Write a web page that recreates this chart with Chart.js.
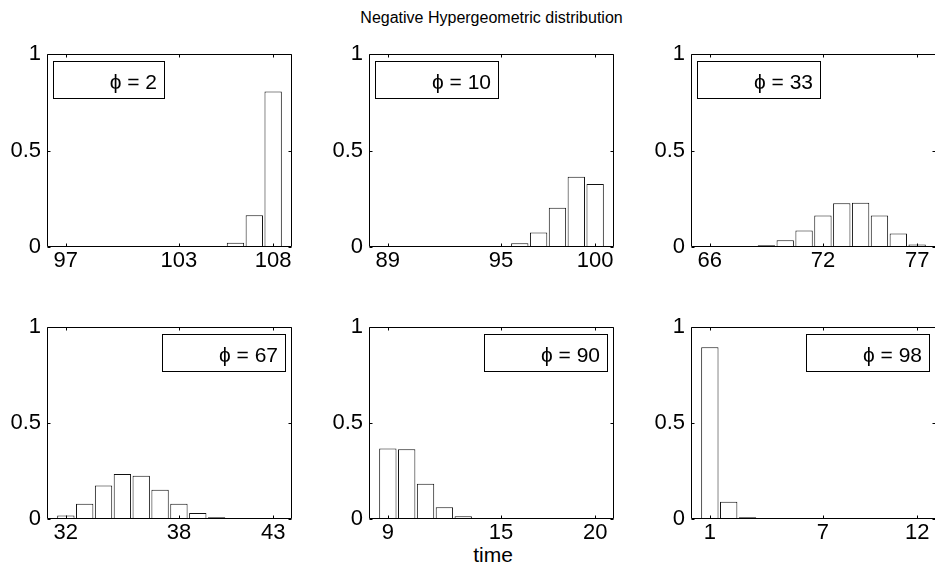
<!DOCTYPE html>
<html><head><meta charset="utf-8">
<script src="https://cdn.jsdelivr.net/npm/chart.js@4.4.1/dist/chart.umd.min.js"></script>
<style>
html,body{margin:0;padding:0;background:#fff;overflow:hidden;width:935px;height:572px;position:relative;}
canvas{position:absolute;}
.txt{position:absolute;font-family:'Liberation Sans',Arial,sans-serif;color:#000;white-space:nowrap;line-height:1;}
</style></head><body>
<div class="txt" style="font-size:16px;left:0;width:983px;text-align:center;top:10px;">Negative Hypergeometric distribution</div>
<div class="txt" style="font-size:21px;left:0;width:986px;text-align:center;top:544px;">time</div>
<script>
// ---- data ----
const phiValues = [2, 10, 33, 67, 90, 98];

const times1 = [97, 98, 99, 100, 101, 102, 103, 104, 105, 106, 107, 108];
const probs1 = [0, 0, 0, 0, 0, 0, 0, 0.0004, 0.004, 0.022, 0.165, 0.806];
const ticks1 = [97, 103, 108];

const times2 = [89, 90, 91, 92, 93, 94, 95, 96, 97, 98, 99, 100];
const probs2 = [0, 0, 0, 0, 0.0002, 0.0008, 0.004, 0.020, 0.075, 0.204, 0.364, 0.327];
const ticks2 = [89, 95, 100];

const times3 = [66, 67, 68, 69, 70, 71, 72, 73, 74, 75, 76, 77];
const probs3 = [0.0001, 0.0004, 0.002, 0.009, 0.035, 0.086, 0.163, 0.227, 0.229, 0.163, 0.070, 0.013];
const ticks3 = [66, 72, 77];

const times4 = [32, 33, 34, 35, 36, 37, 38, 39, 40, 41, 42, 43];
const probs4 = [0.018, 0.080, 0.175, 0.235, 0.225, 0.153, 0.080, 0.031, 0.009, 0.002, 0.0004, 0.0001];
const ticks4 = [32, 38, 43];

const times5 = [9, 10, 11, 12, 13, 14, 15, 16, 17, 18, 19, 20];
const probs5 = [0.367, 0.364, 0.184, 0.061, 0.014, 0.004, 0.0007, 0.0001, 0, 0, 0, 0];
const ticks5 = [9, 15, 20];

const times6 = [1, 2, 3, 4, 5, 6, 7, 8, 9, 10, 11, 12];
const probs6 = [0.896, 0.090, 0.009, 0.001, 0.0001, 0, 0, 0, 0, 0, 0, 0];
const ticks6 = [1, 7, 12];

const yTicks = [0, 0.5, 1];

// ---- layout ----
Chart.defaults.font.family = "'Liberation Sans', Arial, sans-serif";
Chart.defaults.color = '#000';

const W = 245;
const panels = [
  {phi: phiValues[0], times: times1, probs: probs1, ticks: ticks1, L: 47,  T: 50,  H: 197, legend: 'left'},
  {phi: phiValues[1], times: times2, probs: probs2, ticks: ticks2, L: 369, T: 50,  H: 197, legend: 'left'},
  {phi: phiValues[2], times: times3, probs: probs3, ticks: ticks3, L: 691, T: 50,  H: 197, legend: 'left'},
  {phi: phiValues[3], times: times4, probs: probs4, ticks: ticks4, L: 47,  T: 323, H: 196, legend: 'right'},
  {phi: phiValues[4], times: times5, probs: probs5, ticks: ticks5, L: 369, T: 323, H: 196, legend: 'right'},
  {phi: phiValues[5], times: times6, probs: probs6, ticks: ticks6, L: 691, T: 323, H: 196, legend: 'right'}
];

panels.forEach(p => {
  const padL = 47, padT = 15, padR = 22, padB = 40;
  const cv = document.createElement('canvas');
  cv.width = W + padL + padR;
  cv.height = p.H + padT + padB;
  cv.style.left = (p.L - padL) + 'px';
  cv.style.top = (p.T - padT) + 'px';
  document.body.appendChild(cv);

  const decor = {
    id: 'decor',
    afterDatasetsDraw(chart) {
      const ctx = chart.ctx, a = chart.chartArea;
      ctx.save();
      const l = Math.round(a.left) + 0.5, r = Math.round(a.right) - 0.5;
      const t = Math.round(a.top) + 0.5, b = Math.round(a.bottom) - 0.5;
      ctx.strokeStyle = '#000';
      ctx.lineWidth = 1;
      ctx.beginPath();
      ctx.rect(l, t, r - l, b - t);
      const tl = 3;
      p.ticks.forEach(v => {
        const x = Math.round(chart.scales.x.getPixelForValue(v)) + 0.5;
        ctx.moveTo(x, b); ctx.lineTo(x, b - tl);
        ctx.moveTo(x, t); ctx.lineTo(x, t + tl);
      });
      yTicks.forEach(v => {
        const y = Math.round(chart.scales.y.getPixelForValue(v)) + 0.5;
        ctx.moveTo(l, y); ctx.lineTo(l + tl, y);
        ctx.moveTo(r, y); ctx.lineTo(r - tl, y);
      });
      ctx.stroke();

      // legend box
      ctx.font = "21px 'Liberation Sans', Arial, sans-serif";
      const txt = '\u03D5 = ' + p.phi;
      const tw = ctx.measureText(txt).width;
      const w = Math.round(tw + 64), h = 37;
      const x0 = p.legend === 'left' ? Math.round(a.left) + 6 : Math.round(a.right) - 7 - w;
      const y0 = Math.round(a.top) + 7;
      ctx.fillStyle = '#fff';
      ctx.fillRect(x0, y0, w, h);
      ctx.strokeRect(x0 + 0.5, y0 + 0.5, w, h);
      ctx.fillStyle = '#000';
      ctx.textAlign = 'right';
      ctx.textBaseline = 'alphabetic';
      ctx.fillText(txt, x0 + w - 7, y0 + 28);
      ctx.restore();
    }
  };

  new Chart(cv, {
    type: 'bar',
    data: {
      datasets: [{
        data: p.times.map((t, k) => ({x: t, y: p.probs[k]})),
        backgroundColor: '#ffffff',
        borderColor: '#111111',
        borderWidth: 1,
        barPercentage: 0.92,
        categoryPercentage: 1
      }]
    },
    options: {
      responsive: false,
      animation: false,
      devicePixelRatio: 1,
      layout: {padding: {left: 0, top: padT, right: padR, bottom: 0}},
      plugins: {legend: {display: false}, tooltip: {enabled: false}, title: {display: false}},
      scales: {
        x: {
          type: 'linear',
          min: p.times[0] - 1,
          max: p.times[p.times.length - 1] + 1,
          offset: false,
          grid: {display: false, drawTicks: false},
          border: {display: false},
          afterBuildTicks: s => { s.ticks = p.ticks.map(v => ({value: v})); },
          afterFit: s => { s.height = padB; },
          ticks: {padding: 1, font: {size: 22}, color: '#000', maxRotation: 0, autoSkip: false,
                  callback: v => String(v)}
        },
        y: {
          min: 0, max: 1,
          grid: {display: false, drawTicks: false},
          border: {display: false},
          afterBuildTicks: s => { s.ticks = yTicks.map(v => ({value: v})); },
          afterFit: s => { s.width = padL; },
          ticks: {padding: 6, font: {size: 22}, color: '#000', callback: v => String(v)}
        }
      }
    },
    plugins: [decor]
  });
});
</script>
</body></html>
